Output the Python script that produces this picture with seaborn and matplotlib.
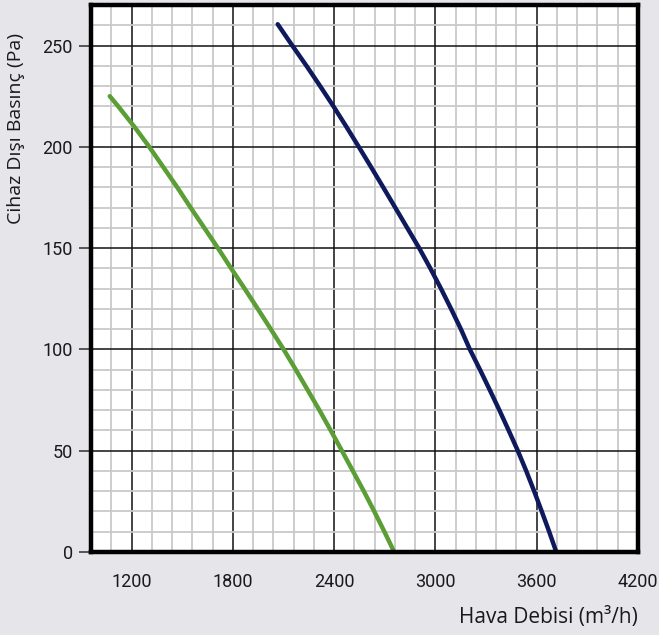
import numpy as np
import pandas as pd
import matplotlib
matplotlib.use("Agg")
import matplotlib.pyplot as plt
from matplotlib.ticker import MultipleLocator
import seaborn as sns

# curve values (one reading every 10 Pa)
green_flow = [1071, 1121, 1216, 1305, 1388, 1471, 1550, 1631, 1712, 1790, 1870,
              1948, 2025, 2101, 2173, 2243, 2313, 2380, 2446, 2511, 2576, 2638,
              2698, 2756]
green_pressure = [225, 220, 210, 200, 190, 180, 170, 160, 150, 140, 130,
                  120, 110, 100, 90, 80, 70, 60, 50, 40, 30, 20,
                  10, 0]

blue_flow = [2066, 2152, 2236, 2317, 2396, 2472, 2546, 2619, 2691, 2762, 2833,
             2904, 2970, 3033, 3093, 3151, 3204, 3264, 3322, 3379, 3434, 3488,
             3538, 3585, 3630, 3674, 3716]
blue_pressure = [260.5, 250, 240, 230, 220, 210, 200, 190, 180, 170, 160,
                 150, 140, 130, 120, 110, 100, 90, 80, 70, 60, 50,
                 40, 30, 20, 10, 0]

x_ticks = [1200, 1800, 2400, 3000, 3600, 4200]
y_ticks = [0, 50, 100, 150, 200, 250]

sns.set_style("white")
plt.rcParams['font.family'] = ['Roboto', 'DejaVu Sans']

green = pd.DataFrame({'flow': green_flow, 'pressure': green_pressure})
blue = pd.DataFrame({'flow': blue_flow, 'pressure': blue_pressure})

fig = plt.figure(figsize=(6.59, 6.35), dpi=100, facecolor='#e5e5ea')
ax = fig.add_axes([91 / 659, 83 / 635, 547 / 659, 547 / 635])
ax.set_facecolor('white')

sns.lineplot(data=green, x='flow', y='pressure', color='#5a9e35', linewidth=3.2,
             sort=False, ax=ax, zorder=5, solid_joinstyle='round')
sns.lineplot(data=blue, x='flow', y='pressure', color='#0e1a5c', linewidth=3.2,
             sort=False, ax=ax, zorder=5, solid_joinstyle='round')

ax.set_xlim(960, 4200)
ax.set_ylim(0, 270)
ax.xaxis.set_minor_locator(MultipleLocator(120))
ax.yaxis.set_minor_locator(MultipleLocator(10))
ax.set_xticks(x_ticks)
ax.set_yticks(y_ticks)

ax.grid(which='minor', color='#c9c9c9', linewidth=1.3, zorder=1)
ax.grid(which='major', color='#111111', linewidth=1.1, zorder=2)
ax.set_axisbelow(True)

for s in ax.spines.values():
    s.set_visible(True)
    s.set_color('black')
    s.set_linewidth(3.2)
    s.set_zorder(6)

ax.tick_params(axis='x', which='both', length=0, pad=15, labelsize=13, labelcolor='#1a1a1a')
ax.tick_params(axis='y', which='major', length=9, width=1.4, color='#555555', pad=4,
               labelsize=13, labelcolor='#1a1a1a', left=True)
ax.tick_params(axis='y', which='minor', length=0)

ax.set_xlabel('')
ax.set_ylabel('')
fig.text(638 / 659, 1 - 617 / 635, 'Hava Debisi (m³/h)', ha='right', va='center',
         fontsize=15, color='#1a1a1a', family=['Open Sans', 'DejaVu Sans'])
fig.text(16 / 659, 1 - 128 / 635, 'Cihaz Dışı Basınç (Pa)', ha='center', va='center',
         rotation=90, fontsize=14, color='#1a1a1a', family=['Open Sans', 'DejaVu Sans'])

fig.savefig('out.png', dpi=100, facecolor=fig.get_facecolor())
